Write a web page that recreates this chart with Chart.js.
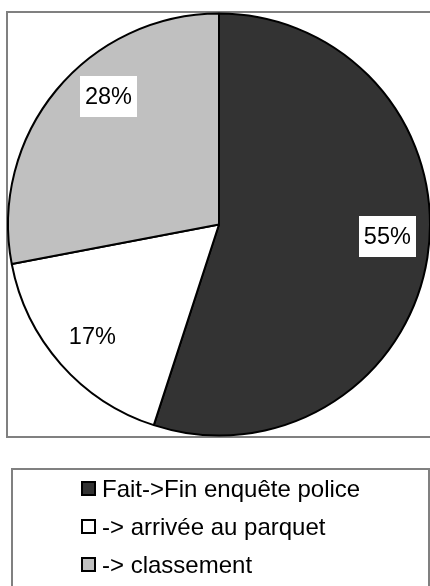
<!DOCTYPE html>
<html>
<head>
<meta charset="utf-8">
<script src="https://cdn.jsdelivr.net/npm/chart.js@4"></script>
<style>
  html, body { margin: 0; padding: 0; background: #ffffff; overflow: hidden; }
  #wrap { position: absolute; left: 0; top: 0; width: 440px; height: 586px; }
</style>
</head>
<body>
<div id="wrap"><canvas id="c" width="440" height="586"></canvas></div>
<script>
const categories = ["Fait->Fin enquête police", "-> arrivée au parquet", "-> classement"];
const shares = [55, 17, 28];
const sliceColors = ["#333333", "#ffffff", "#c0c0c0"];

const FONT = '"Liberation Sans", Arial, sans-serif';

const framePlugin = {
  id: 'frame',
  beforeDatasetsDraw(chart) {
    const ctx = chart.ctx;
    ctx.save();
    ctx.strokeStyle = '#808080';
    ctx.lineWidth = 2;
    ctx.beginPath();
    ctx.moveTo(445, 12); ctx.lineTo(7, 12); ctx.lineTo(7, 437); ctx.lineTo(445, 437);
    ctx.stroke();
    ctx.beginPath();
    ctx.moveTo(12, 600); ctx.lineTo(12, 469); ctx.lineTo(429, 469); ctx.lineTo(429, 600);
    ctx.stroke();
    ctx.restore();
  }
};

const labelPlugin = {
  id: 'sliceLabels',
  afterDatasetsDraw(chart, args, opts) {
    const ctx = chart.ctx;
    const meta = chart.getDatasetMeta(0);
    const data = chart.data.datasets[0].data;
    const shift = opts.angleShift || [];
    ctx.save();
    ctx.font = '23.5px ' + FONT;
    ctx.textAlign = 'center';
    ctx.textBaseline = 'middle';
    meta.data.forEach((arc, i) => {
      const p = arc.getProps(['x', 'y', 'startAngle', 'endAngle', 'outerRadius'], true);
      const mid = (p.startAngle + p.endAngle) / 2 + (shift[i] || 0) * Math.PI / 180;
      const r = p.outerRadius * 0.8;
      const px = p.x + Math.cos(mid) * r;
      const py = p.y + Math.sin(mid) * r;
      const txt = data[i] + '%';
      const w = ctx.measureText(txt).width + 10;
      const h = 41;
      ctx.fillStyle = '#ffffff';
      ctx.fillRect(Math.round(px - w / 2), Math.round(py - h / 2), Math.round(w), h);
      ctx.fillStyle = '#000000';
      ctx.fillText(txt, px, py + 1);
    });
    ctx.restore();
  }
};

const legendPlugin = {
  id: 'boxLegend',
  afterDraw(chart) {
    const ctx = chart.ctx;
    const labels = chart.data.labels;
    const colors = chart.data.datasets[0].backgroundColor;
    ctx.save();
    ctx.font = '24px ' + FONT;
    ctx.textAlign = 'left';
    ctx.textBaseline = 'middle';
    labels.forEach((lab, i) => {
      const cy = 489 + i * 38;
      ctx.fillStyle = colors[i];
      ctx.fillRect(82, cy - 7, 13, 13);
      ctx.strokeStyle = '#000000';
      ctx.lineWidth = 2;
      ctx.strokeRect(82, cy - 7, 13, 13);
      ctx.fillStyle = '#000000';
      ctx.fillText(lab, 102, cy + 1);
    });
    ctx.restore();
  }
};

new Chart(document.getElementById('c'), {
  type: 'pie',
  data: {
    labels: categories,
    datasets: [{
      data: shares,
      backgroundColor: sliceColors,
      borderColor: '#000000',
      borderWidth: 2
    }]
  },
  options: {
    responsive: false,
    animation: false,
    layout: { padding: { left: 7, right: 9, top: 12.5, bottom: 149.5 } },
    plugins: {
      legend: { display: false },
      tooltip: { enabled: false },
      title: { display: false },
      sliceLabels: { angleShift: [-5, 0, 9.5] }
    }
  },
  plugins: [framePlugin, labelPlugin, legendPlugin]
});
</script>
</body>
</html>
